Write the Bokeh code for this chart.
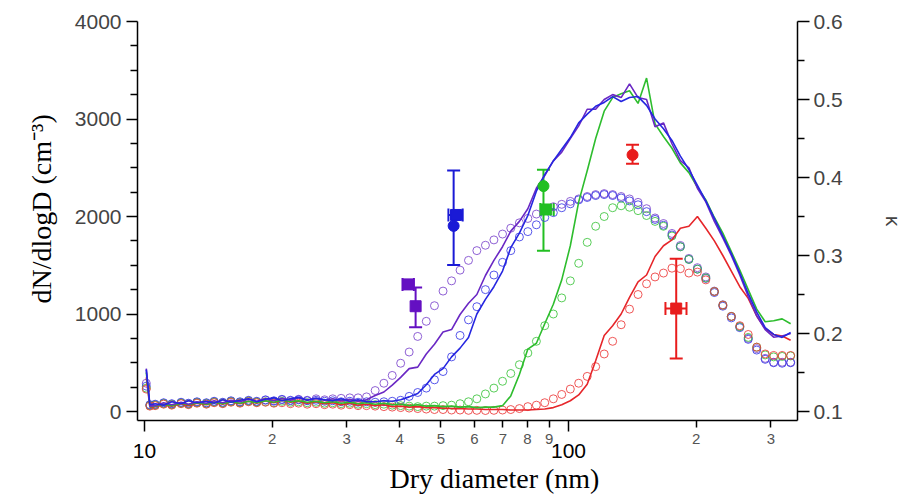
from bokeh.plotting import figure
from bokeh.models import (Range1d, LinearAxis, LogAxis, FixedTicker, ColumnDataSource,
                          Whisker, TeeHead, Title)
from bokeh.embed import file_html
from bokeh.resources import INLINE

# ---------------- data ----------------
diam = [10.1, 10.3, 10.6, 11.1, 11.6, 12.2, 12.7, 13.3, 14.0, 14.6, 15.3, 16.0, 16.8, 17.6,
        18.4, 19.3, 20.2, 21.1, 22.1, 23.1, 24.2, 25.4, 26.6, 27.8, 29.1, 30.5, 31.9, 33.4,
        35.0, 36.7, 38.4, 40.2, 42.1, 44.1, 46.2, 48.3, 50.6, 53.0, 55.5, 58.1, 60.8, 63.7,
        66.7, 69.9, 73.1, 76.6, 80.2, 84.0, 87.9, 92.1, 96.4, 101.0, 105.7, 110.7, 115.9,
        121.4, 127.1, 133.1, 139.3, 145.9, 152.8, 160.0, 167.5, 175.4, 183.6, 192.3, 201.4,
        210.8, 220.8, 231.2, 242.1, 253.5, 265.4, 277.9, 291.0, 304.7, 319.1, 334.1]

# total (solid lines)
line_purple = [440, 55,
               60, 90, 70, 95, 75, 100, 85, 110, 90, 115, 100, 125, 105, 130, 110, 135, 115, 140,
               120, 135, 115, 130, 110, 125, 105, 120,
               165, 200, 270, 350, 440, 455, 590, 690, 815, 840, 995, 1110, 1200, 1395, 1550,
               1690, 1850, 1950, 2080, 2290, 2420, 2570, 2660, 2800, 2930, 3100, 3100, 3200,
               3250, 3220, 3360, 3220, 3200, 2920, 2960, 2746, 2574, 2500, 2290, 2150, 1950,
               1780, 1600, 1400, 1180, 980, 840, 762, 775, 800]
line_blue = [430, 70,
             80, 65, 100, 80, 110, 90, 105, 85, 120, 95, 115, 130, 100, 125, 140, 110, 130, 145,
             115, 135, 120, 110, 130, 105, 120, 100,
             100, 110, 105, 120, 150, 185, 275, 380, 440, 560, 650, 760, 1000, 1150, 1280, 1440,
             1680, 1830, 2010, 2260, 2430, 2570, 2690, 2810, 2960, 3050, 3130, 3170, 3230, 3180,
             3220, 3230, 3140, 3000, 2900, 2780, 2620, 2480, 2320, 2160, 1980, 1800, 1620, 1420,
             1210, 1020, 860, 790, 760, 810]
line_green = [400, 50,
              55, 75, 60, 85, 70, 90, 75, 95, 80, 100, 85, 105, 90, 110, 95, 115, 100, 110, 95,
              105, 90, 100, 85, 95, 80, 90,
              75, 85, 70, 75, 60, 70, 55, 60, 50, 55, 45, 50, 40, 45, 45, 60, 160, 380, 640, 700,
              900, 1100, 1350, 1700, 2150, 2470, 2800, 3080, 3220, 3260, 3290, 3160, 3420, 2950,
              2820, 2700, 2550, 2450, 2300, 2170, 1990, 1830, 1640, 1450, 1250, 1050, 920, 930,
              950, 900]
line_red = [350, 45,
            50, 70, 55, 80, 60, 85, 70, 95, 75, 100, 80, 105, 85, 110, 90, 115, 95, 105, 85, 100,
            80, 90, 70, 85, 65, 75,
            60, 70, 50, 55, 45, 50, 40, 40, 35, 30, 30, 25, 25, 20, 20, 20, 15, 15, 15, 20, 25,
            40, 70, 110, 170, 280, 520, 780, 880, 1000, 1170, 1330, 1400, 1590, 1700, 1760, 1880,
            1900, 2000, 1880, 1750, 1600, 1440, 1280, 1160, 980, 850, 790, 775, 730]

# activated (open circles)
circ_purple = [290, 65,
               70, 85, 75, 90, 80, 95, 85, 100, 90, 105, 95, 110, 100, 115, 105, 120, 110, 125,
               115, 130, 120, 130, 135, 140, 140, 150,
               215, 290, 370, 495, 610, 770, 925, 1085, 1235, 1340, 1450, 1550, 1650, 1705, 1760,
               1820, 1880, 1935, 1980, 2025, 2060, 2100, 2125, 2155, 2180, 2205, 2225, 2235, 2225,
               2205, 2180, 2145, 2080, 1985, 1928, 1826, 1703, 1570, 1475, 1380, 1235, 1095, 975,
               870, 750, 645, 545, 505, 505, 505]
circ_blue = [260, 70,
             75, 90, 80, 95, 85, 100, 90, 105, 95, 110, 100, 115, 105, 120, 110, 125, 115, 120,
             110, 115, 105, 110, 100, 105, 95, 100,
             95, 100, 105, 115, 155, 195, 240, 325, 410, 560, 780, 940, 1075, 1250, 1400, 1530,
             1650, 1790, 1845, 1915, 1990, 2040, 2090, 2130, 2170, 2195, 2215, 2225, 2215, 2190,
             2160, 2120, 2050, 1970, 1910, 1810, 1690, 1560, 1460, 1365, 1220, 1080, 960, 860,
             740, 630, 535, 500, 495, 500]
circ_green = [240, 60,
              65, 80, 70, 85, 75, 90, 80, 95, 85, 100, 90, 105, 95, 100, 90, 105, 95, 100, 90,
              95, 85, 90, 80, 85, 75, 80,
              70, 75, 65, 60, 55, 50, 55, 55, 60, 65, 80, 100, 130, 180, 240, 310, 390, 480,
              600, 720, 880, 1000, 1165, 1340, 1520, 1735, 1900, 2000, 2090, 2110, 2095, 2060,
              2010, 1950, 1900, 1800, 1690, 1560, 1460, 1370, 1230, 1090, 975, 870, 760, 660,
              580, 560, 565, 570]
circ_red = [230, 55,
            60, 75, 65, 80, 70, 85, 75, 90, 80, 95, 85, 100, 90, 95, 85, 90, 80, 85, 75, 80, 70,
            75, 65, 70, 60, 60,
            55, 50, 45, 40, 35, 30, 25, 20, 20, 15, 15, 12, 12, 10, 12, 15, 20, 30, 50, 65, 90,
            130, 175, 230, 290, 360, 460, 590, 720, 890, 1050, 1200, 1310, 1380, 1420, 1470,
            1465, 1420, 1430, 1350, 1230, 1090, 975, 880, 790, 660, 590, 575, 575, 575]

# hygroscopicity (right axis)
kap_group = ["purple", "purple", "blue", "blue", "green", "green", "red", "red"]
kap_marker = ["square", "square", "circle", "square", "circle", "square", "circle", "square"]
kap_d = [41.9, 43.6, 53.6, 54.3, 87.3, 88.6, 141.6, 179.5]
kap_v = [0.263, 0.235, 0.338, 0.352, 0.389, 0.359, 0.429, 0.232]
kap_lo = [0.263, 0.208, 0.288, 0.352, 0.306, 0.359, 0.4175, 0.168]
kap_hi = [0.263, 0.259, 0.409, 0.352, 0.410, 0.359, 0.442, 0.296]
kap_dlo = [40.6, 43.6, 53.6, 52.1, 87.3, 85.8, 141.6, 169.3]
kap_dhi = [43.2, 43.6, 53.6, 56.3, 87.3, 92.3, 141.6, 189.8]

x_major = [10, 100]
x_major_labels = ["10", "100"]
x_minor = [20, 30, 40, 50, 60, 70, 80, 90, 200, 300]
x_minor_labels = ["2", "3", "4", "5", "6", "7", "8", "9", "2", "3"]
y_major = [0, 1000, 2000, 3000, 4000]
y_minor = [250, 500, 750, 1250, 1500, 1750, 2250, 2500, 2750, 3250, 3500, 3750]
k_major = [0.1, 0.2, 0.3, 0.4, 0.5, 0.6]
k_minor = [0.15, 0.25, 0.35, 0.45, 0.55]

# ---------------- styling ----------------
C_LINE = {"purple": "#6a28c4", "blue": "#2626e0", "green": "#2ebd2e", "red": "#e6262a"}
C_CIRC = {"purple": "#7b45cc", "blue": "#3a3ae6", "green": "#3cc43c", "red": "#ec3a3a"}
C_KAP = {"purple": "#6410c2", "blue": "#1a1ad6", "green": "#22bf22", "red": "#e81c1c"}

SANS = "Liberation Sans"
SERIF = "Liberation Serif"

p = figure(width=908, height=496, x_axis_type="log", output_backend="svg",
           toolbar_location=None,
           x_range=Range1d(9.63, 346.8), y_range=Range1d(-92.3, 4000),
           min_border_left=137, min_border_right=111, min_border_top=21,
           min_border_bottom=76)
p.extra_y_ranges = {"kappa": Range1d(0.0885, 0.6)}
p.outline_line_color = None
p.grid.visible = False
p.background_fill_color = "white"
p.border_fill_color = "white"

# bottom axis: ticks + small digit labels (2..9)
xa = p.xaxis[0]
xa.ticker = FixedTicker(ticks=x_minor, minor_ticks=x_major)
xa.major_label_overrides = {t: s for t, s in zip(x_minor, x_minor_labels)}
xa.major_tick_out = 7
xa.major_tick_in = 0
xa.minor_tick_out = 11
xa.minor_tick_in = 0
xa.major_label_standoff = 2
xa.major_label_text_font = SANS
xa.major_label_text_font_size = "15px"
xa.major_label_text_color = "#555555"

# second row: decade labels 10, 100
xb = LogAxis(ticker=FixedTicker(ticks=x_major),
             major_label_overrides={t: s for t, s in zip(x_major, x_major_labels)})
xb.axis_line_color = None
xb.major_tick_line_color = None
xb.minor_tick_line_color = None
xb.major_tick_out = 0
xb.major_tick_in = 0
xb.minor_tick_out = 0
xb.minor_tick_in = 0
xb.major_label_standoff = -3
xb.major_label_text_font = SANS
xb.major_label_text_font_size = "21px"
xb.major_label_text_color = "black"
p.add_layout(xb, "below")

# left axis
ya = p.yaxis[0]
ya.ticker = FixedTicker(ticks=y_major, minor_ticks=y_minor)
ya.major_tick_out = 11
ya.major_tick_in = 0
ya.minor_tick_out = 7
ya.minor_tick_in = 0
ya.major_label_standoff = 5
ya.major_label_text_font = SANS
ya.major_label_text_font_size = "21px"

# right axis
ka = LinearAxis(y_range_name="kappa", ticker=FixedTicker(ticks=k_major, minor_ticks=k_minor))
ka.major_tick_out = 12
ka.major_tick_in = 0
ka.minor_tick_out = 7
ka.minor_tick_in = 0
ka.major_label_standoff = 4
ka.major_label_text_font = SANS
ka.major_label_text_font_size = "21px"
ka.axis_label = "\u03ba"
ka.axis_label_text_font = SANS
ka.axis_label_text_font_size = "21px"
ka.axis_label_text_font_style = "normal"
ka.axis_label_standoff = 36
p.add_layout(ka, "right")

for ax in (xa, ya, ka):
    ax.axis_line_width = 1.5
    ax.major_tick_line_width = 1.5
    ax.minor_tick_line_width = 1.5
    ax.axis_line_color = "black"

# axis titles (placed off-centre, as in the original)
p.add_layout(Title(text="Dry diameter (nm)", align="left", offset=252, standoff=0,
                   text_font=SERIF, text_font_size="28px", text_font_style="normal",
                   text_color="black"), "below")
p.add_layout(Title(text="dN/dlogD (cm\u207b\u00b3)", align="left", offset=117, standoff=29,
                   text_font=SERIF, text_font_size="28px", text_font_style="normal",
                   text_color="black"), "left")

# ---------------- glyphs ----------------
for name, vals in (("purple", circ_purple), ("blue", circ_blue),
                   ("green", circ_green), ("red", circ_red)):
    p.scatter(diam, vals, marker="circle", size=8, fill_color=None,
              line_color=C_CIRC[name], line_width=1, line_alpha=0.85)

for name, vals in (("red", line_red), ("green", line_green),
                   ("purple", line_purple), ("blue", line_blue)):
    p.line(diam, vals, line_color=C_LINE[name], line_width=1.6)

for name in ("purple", "blue", "green", "red"):
    idx = [i for i, g in enumerate(kap_group) if g == name]
    col = C_KAP[name]
    yi = [i for i in idx if kap_hi[i] != kap_lo[i]]
    if yi:
        src = ColumnDataSource(dict(b=[kap_d[i] for i in yi], lo=[kap_lo[i] for i in yi],
                                    hi=[kap_hi[i] for i in yi]))
        p.add_layout(Whisker(source=src, base="b", lower="lo", upper="hi", dimension="height",
                             y_range_name="kappa", line_color=col, line_width=2,
                             upper_head=TeeHead(size=13, line_color=col, line_width=2),
                             lower_head=TeeHead(size=13, line_color=col, line_width=2)))
    xi = [i for i in idx if kap_dhi[i] != kap_dlo[i]]
    if xi:
        src = ColumnDataSource(dict(b=[kap_v[i] for i in xi], lo=[kap_dlo[i] for i in xi],
                                    hi=[kap_dhi[i] for i in xi]))
        p.add_layout(Whisker(source=src, base="b", lower="lo", upper="hi", dimension="width",
                             y_range_name="kappa", line_color=col, line_width=2,
                             upper_head=TeeHead(size=13, line_color=col, line_width=2),
                             lower_head=TeeHead(size=13, line_color=col, line_width=2)))
    for i in idx:
        p.scatter([kap_d[i]], [kap_v[i]], y_range_name="kappa", marker=kap_marker[i],
                  size=11, fill_color=col, line_color=col)

open("out.html", "w").write(file_html(p, INLINE))
